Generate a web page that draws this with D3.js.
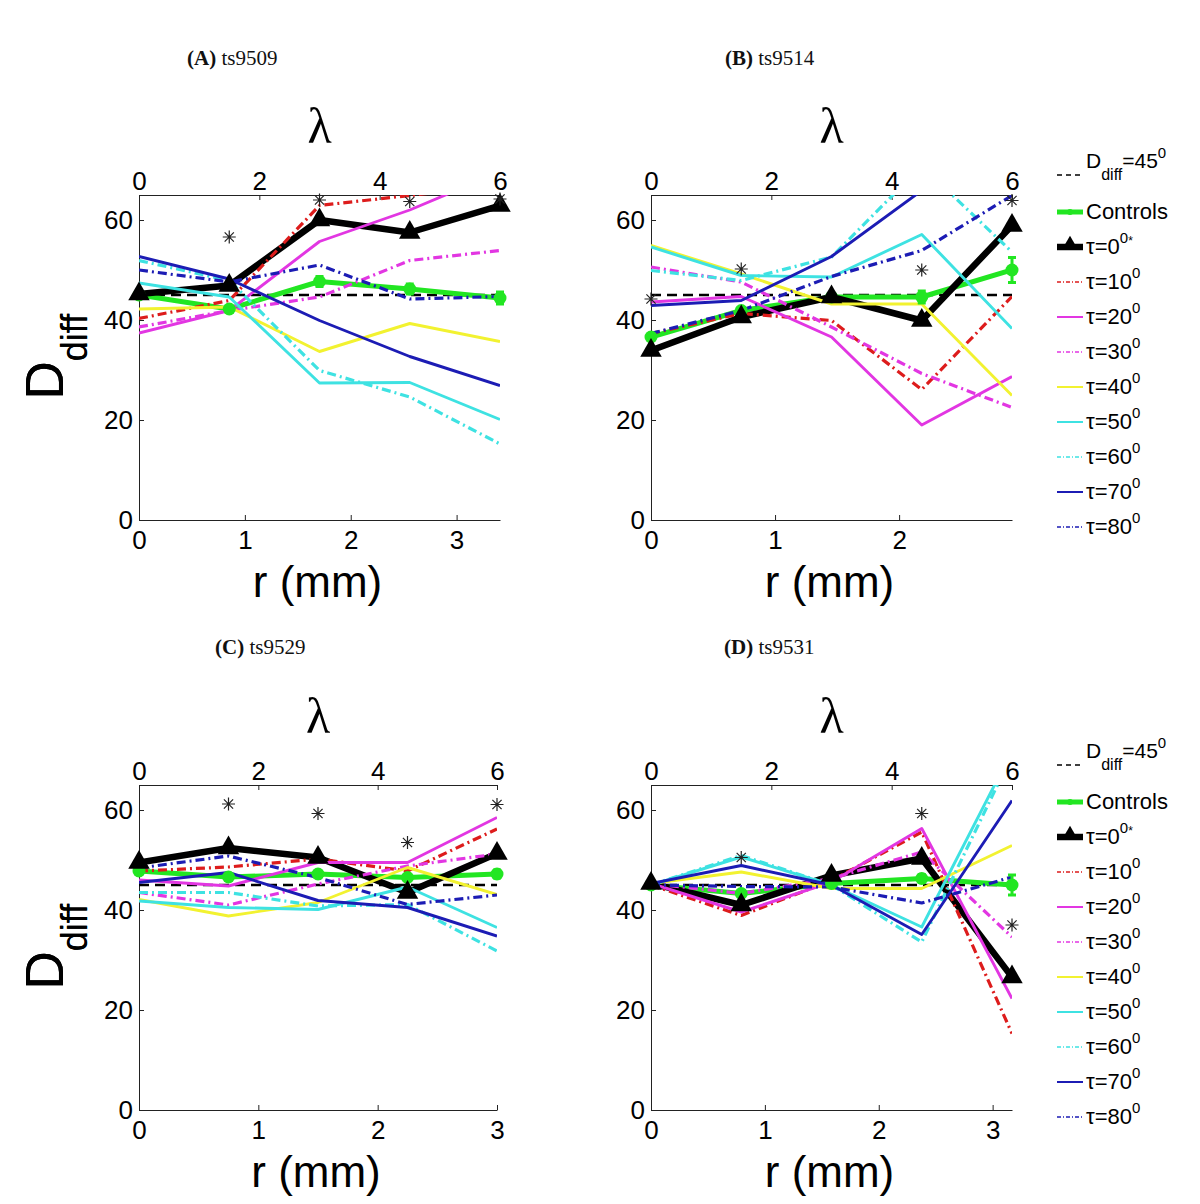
<!DOCTYPE html>
<html><head><meta charset="utf-8">
<script src="https://cdn.jsdelivr.net/npm/d3@7"></script>
<style>
html,body{margin:0;padding:0;background:#fff;}
svg{display:block;}
</style></head>
<body>
<svg id="chart" width="1200" height="1204"></svg>
<script>
// ---------------- DATA ----------------
const lambdaPts = [0, 1.5, 3, 4.5, 6];
const lambdaTicks = [0, 2, 4, 6];
const yTicks = [0, 20, 40, 60];
const panelLetters = ["A", "B", "C", "D"];
const panelNames = ["ts9509", "ts9514", "ts9529", "ts9531"];
const rMax = [3.41, 2.91, 3.0, 3.17];
const rTicks = [[0, 1, 2, 3], [0, 1, 2], [0, 1, 2, 3], [0, 1, 2, 3]];
const refValue = 45;
const seriesNames = ["Controls", "τ=0", "τ=10", "τ=20", "τ=30", "τ=40", "τ=50", "τ=60", "τ=70", "τ=80"];

// rows follow seriesNames order; columns follow lambdaPts
const valuesA = [
  [45, 42.2, 47.7, 46.2, 44.4],
  [45.2, 46.9, 60, 57.5, 62.9],
  [40.3, 43.9, 62.9, 64.9, 67],
  [37.4, 41.9, 55.7, 62, 69.6],
  [38.6, 41.9, 44.6, 51.9, 53.9],
  [42.2, 42.6, 33.7, 39.3, 35.7],
  [47.4, 44.6, 27.4, 27.5, 20.1],
  [51.9, 47.9, 29.9, 24.6, 15.2],
  [52.7, 48.2, 39.9, 32.7, 26.9],
  [50, 47.6, 51, 44.2, 44.7]
];
const valuesB = [
  [36.6, 41.9, 44.6, 44.6, 50],
  [33.9, 40.6, 44.6, 39.9, 58.9],
  [37.3, 41.3, 39.9, 26.1, 44.7],
  [43.6, 44.7, 36.6, 19, 28.7],
  [50.6, 47.6, 38.6, 29.3, 22.5],
  [54.9, 49.2, 43.2, 43.2, 24.9],
  [54.6, 48.9, 48.6, 57.1, 38.3],
  [49.9, 47.9, 52.6, 70.8, 53.6],
  [42.9, 43.9, 52.7, 65.9, 72],
  [37.3, 41.9, 48.7, 53.9, 64.9]
];
const valuesC = [
  [47.8, 46.6, 47.2, 46.5, 47.2],
  [49.5, 52.4, 50.5, 43.5, 51.3],
  [47.8, 48.6, 50.2, 47.8, 56.2],
  [46, 44.8, 49.5, 49.5, 58.5],
  [43.5, 41, 45.2, 48.8, 51.2],
  [42.1, 38.8, 41.5, 48.5, 43.1],
  [41.8, 40.5, 40.1, 44.6, 36.5],
  [43.5, 43.5, 40.8, 41.1, 31.8],
  [45.5, 47.5, 41.9, 40.5, 34.8],
  [48.4, 50.8, 46.5, 41.1, 43]
];
const valuesD = [
  [45, 43.3, 45.3, 46.3, 45],
  [45.3, 41, 46.9, 50.3, 26.6],
  [45, 38.9, 45.9, 55.6, 15.3],
  [45.3, 39.6, 45.6, 56.3, 22.3],
  [45.3, 43.3, 46.3, 51.6, 34.6],
  [45.3, 47.6, 44.3, 44.3, 52.9],
  [45, 50.6, 45, 36.6, 71.8],
  [45, 50.9, 45, 33.6, 71],
  [45.3, 48.9, 45, 35.1, 61.9],
  [45, 44.7, 44.6, 41.4, 46.6]
];
const controlsErrA = [0.5, 0.6, 1, 1, 1.2];
const controlsErrB = [0.5, 0.5, 0.5, 1.2, 2.5];
const controlsErrC = [0.5, 0.5, 0.5, 0.5, 0.8];
const controlsErrD = [0.5, 0.5, 0.5, 0.8, 2];
// significance asterisks: [lambda, value]
const asterisksA = [[1.5, 56.6], [3, 64], [4.5, 63.7], [6, 64.2]];
const asterisksB = [[0, 44.2], [1.5, 50.2], [4.5, 50], [6, 63.9]];
const asterisksC = [[1.5, 61.2], [3, 59.3], [4.5, 53.5], [6, 61.1]];
const asterisksD = [[1.5, 50.5], [4.5, 59.3], [6, 37]];

// ---------------- STYLES / LAYOUT ----------------
const seriesStyles = [
  {color: "#22e622", width: 5, dash: null, marker: "circle"},
  {color: "#000000", width: 6.5, dash: null, marker: "triangle"},
  {color: "#dd1c1c", width: 3.2, dash: "9,4,2,4"},
  {color: "#e236e2", width: 2.9, dash: null},
  {color: "#e236e2", width: 3.2, dash: "9,4,2,4"},
  {color: "#f2f230", width: 2.9, dash: null},
  {color: "#3ee2e2", width: 2.9, dash: null},
  {color: "#3ee2e2", width: 3.2, dash: "9,4,2,4"},
  {color: "#1c1cb4", width: 2.9, dash: null},
  {color: "#1c1cb4", width: 3.2, dash: "9,4,2,4"}
];
const panelValues = [valuesA, valuesB, valuesC, valuesD];
const panelErr = [controlsErrA, controlsErrB, controlsErrC, controlsErrD];
const panelAst = [asterisksA, asterisksB, asterisksC, asterisksD];
const boxes = [
  {left: 139, right: 500, top: 195, bottom: 520, titleX: 187, titleY: 65},
  {left: 651, right: 1012, top: 195, bottom: 520, titleX: 725, titleY: 65},
  {left: 139, right: 497, top: 785, bottom: 1110, titleX: 215, titleY: 654},
  {left: 651, right: 1012, top: 785, bottom: 1110, titleX: 724, titleY: 654}
];
const SANS = "'Liberation Sans', Arial, Helvetica, sans-serif";
const SERIF = "'Liberation Serif', 'Times New Roman', serif";

const svg = d3.select("#chart");
const defs = svg.append("defs");

function asteriskPath(s) {
  const d = s * 0.7071;
  return `M${-s},0L${s},0M0,${-s}L0,${s}M${-d},${-d}L${d},${d}M${-d},${d}L${d},${-d}`;
}

panelValues.forEach((vals, pi) => {
  const b = boxes[pi];
  const g = svg.append("g");
  const xL = d3.scaleLinear().domain([0, 6]).range([b.left, b.right]);
  const xR = d3.scaleLinear().domain([0, rMax[pi]]).range([b.left, b.right]);
  const y = d3.scaleLinear().domain([0, 65]).range([b.bottom, b.top]);

  defs.append("clipPath").attr("id", "clip" + pi)
    .append("rect").attr("x", b.left).attr("y", b.top)
    .attr("width", b.right - b.left).attr("height", b.bottom - b.top);

  // title
  const t = g.append("text").attr("x", b.titleX).attr("y", b.titleY)
    .attr("font-family", SERIF).attr("font-size", 21).attr("fill", "#111");
  t.append("tspan").attr("font-weight", "bold").text("(" + panelLetters[pi] + ")");
  t.append("tspan").text(" " + panelNames[pi]);

  // lambda label
  g.append("text").attr("x", (b.left + b.right) / 2).attr("y", b.top - 52)
    .attr("text-anchor", "middle").attr("font-family", SERIF).attr("font-size", 50)
    .attr("fill", "#000").text("λ");

  // axes
  const axStyle = sel => {
    sel.selectAll("path.domain").attr("stroke", "#222").attr("stroke-width", 1);
    sel.selectAll(".tick line").attr("stroke", "#222");
    sel.selectAll(".tick text").attr("font-family", SANS).attr("font-size", 26).attr("fill", "#000");
  };
  g.append("g").attr("transform", `translate(0,${b.top})`)
    .call(d3.axisTop(xL).tickValues(lambdaTicks).tickFormat(d3.format("d")).tickSizeInner(-5).tickSizeOuter(0).tickPadding(5))
    .call(axStyle);
  g.append("g").attr("transform", `translate(0,${b.bottom})`)
    .call(d3.axisBottom(xR).tickValues(rTicks[pi]).tickFormat(d3.format("d")).tickSizeInner(-5).tickSizeOuter(0).tickPadding(11))
    .call(axStyle);
  g.append("g").attr("transform", `translate(${b.left},0)`)
    .call(d3.axisLeft(y).tickValues(yTicks).tickFormat(d3.format("d")).tickSizeInner(-5).tickSizeOuter(0).tickPadding(6))
    .call(axStyle);

  // y label D_diff
  const yl = g.append("text")
    .attr("transform", `translate(63,${(b.top + b.bottom) / 2 + 42}) rotate(-90)`)
    .attr("font-family", SANS).attr("fill", "#000");
  yl.append("tspan").attr("font-size", 53).text("D");
  yl.append("tspan").attr("font-size", 36).attr("dy", 24).text("diff");

  // x label
  g.append("text").attr("x", (b.left + b.right) / 2 - 2).attr("y", b.bottom + 77)
    .attr("text-anchor", "middle").attr("font-family", SANS).attr("font-size", 44)
    .attr("fill", "#000").text("r (mm)");

  const plot = g.append("g");
  const clipped = plot.append("g").attr("clip-path", `url(#clip${pi})`);

  // reference line
  clipped.append("line").attr("x1", xL(0)).attr("x2", xL(6))
    .attr("y1", y(refValue)).attr("y2", y(refValue))
    .attr("stroke", "#000").attr("stroke-width", 2.5).attr("stroke-dasharray", "10,6");

  const line = d3.line().x((d, i) => xL(lambdaPts[i])).y(d => y(d));

  vals.forEach((series, si) => {
    const st = seriesStyles[si];
    clipped.append("path").attr("d", line(series))
      .attr("fill", "none").attr("stroke", st.color).attr("stroke-width", st.width)
      .attr("stroke-linejoin", "round")
      .attr("stroke-dasharray", st.dash);
    if (si === 0) {
      const err = panelErr[pi];
      series.forEach((v, i) => {
        const x = xL(lambdaPts[i]);
        plot.append("line").attr("x1", x).attr("x2", x)
          .attr("y1", y(v - err[i])).attr("y2", y(v + err[i]))
          .attr("stroke", st.color).attr("stroke-width", 3);
        [v - err[i], v + err[i]].forEach(e => plot.append("line")
          .attr("x1", x - 4).attr("x2", x + 4).attr("y1", y(e)).attr("y2", y(e))
          .attr("stroke", st.color).attr("stroke-width", 3));
        plot.append("circle").attr("cx", x).attr("cy", y(v)).attr("r", 6.5).attr("fill", st.color);
      });
    }
    if (st.marker === "triangle") {
      series.forEach((v, i) => {
        plot.append("path").attr("d", d3.symbol(d3.symbolTriangle, 200)())
          .attr("transform", `translate(${xL(lambdaPts[i])},${y(v)})`).attr("fill", "#000");
      });
    }
  });

  // asterisks
  panelAst[pi].forEach(([l, v]) => {
    plot.append("path").attr("d", asteriskPath(6.5))
      .attr("transform", `translate(${xL(l)},${y(v)})`)
      .attr("stroke", "#222").attr("stroke-width", 1.2).attr("fill", "none");
  });
});

// ---------------- LEGENDS ----------------
[0, 590].forEach(off => {
  const lg = svg.append("g").attr("transform", `translate(0,${off})`);
  const x1 = 1057, x2 = 1083, tx = 1086;
  // reference entry
  lg.append("line").attr("x1", x1).attr("x2", x2).attr("y1", 175).attr("y2", 175)
    .attr("stroke", "#000").attr("stroke-width", 1.5).attr("stroke-dasharray", "5,4");
  const rt = lg.append("text").attr("x", tx).attr("y", 168).attr("font-family", SANS).attr("font-size", 21).attr("fill", "#000");
  rt.append("tspan").text("D");
  rt.append("tspan").attr("font-size", 16).attr("dy", 12).text("diff");
  rt.append("tspan").attr("dy", -12).text("=45");
  rt.append("tspan").attr("font-size", 15).attr("dy", -10).text("0");

  seriesNames.forEach((name, i) => {
    const st = seriesStyles[i];
    const ly = 212 + i * 35;
    lg.append("line").attr("x1", x1).attr("x2", x2).attr("y1", ly).attr("y2", ly)
      .attr("stroke", st.color)
      .attr("stroke-width", i <= 1 ? st.width : (st.dash ? 1.5 : 2))
      .attr("stroke-dasharray", st.dash ? "4,2,1,2" : null);
    if (st.marker === "circle") lg.append("circle").attr("cx", (x1 + x2) / 2).attr("cy", ly).attr("r", 3).attr("fill", st.color);
    if (st.marker === "triangle") lg.append("path").attr("d", d3.symbol(d3.symbolTriangle, 110)())
      .attr("transform", `translate(${(x1 + x2) / 2},${ly - 2})`).attr("fill", "#000");
    const tt = lg.append("text").attr("x", tx).attr("y", ly + 7).attr("font-family", SANS).attr("font-size", 22).attr("fill", "#000");
    tt.append("tspan").text(name);
    if (i >= 1) {
      tt.append("tspan").attr("font-size", 15).attr("dy", -11).text("0");
      if (i === 1) tt.append("tspan").attr("font-size", 12).attr("dy", 2).text("*");
    }
  });
});
</script>
</body></html>
